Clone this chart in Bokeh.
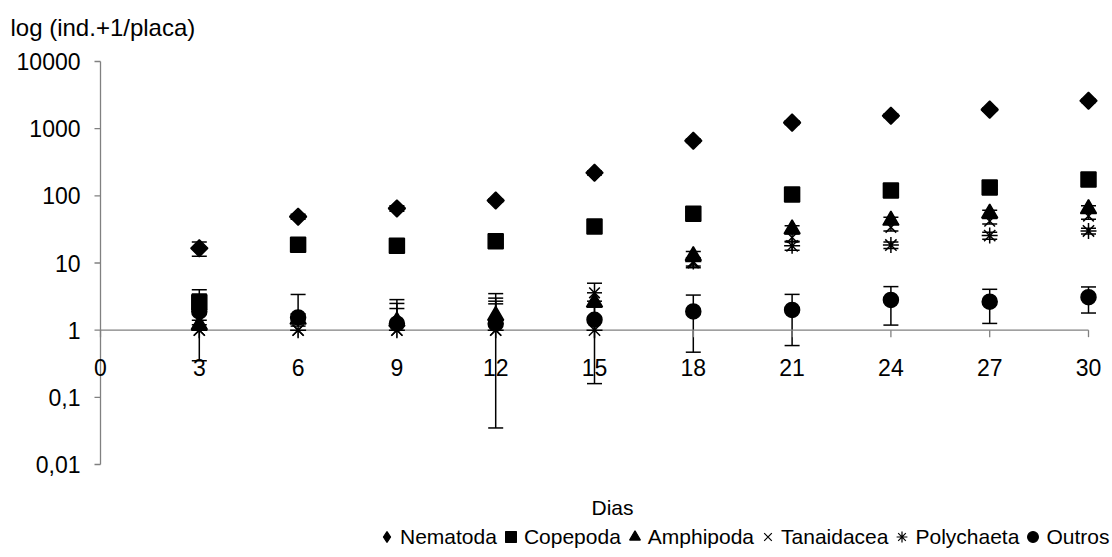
import numpy as np
from bokeh.plotting import figure
from bokeh.models import (Range1d, Whisker, TeeHead, ColumnDataSource, Legend,
                          LegendItem, Label)
from bokeh.core.properties import value
from bokeh.embed import file_html
from bokeh.resources import INLINE

FONT = "Liberation Sans"
W, H = 1112, 557

# Sampling days
days = [3, 6, 9, 12, 15, 18, 21, 24, 27, 30]

# Mean abundance (ind.+1 per plate) and standard deviation for each group
nematoda = [16.6, 49, 65, 85, 220, 660, 1230, 1560, 1920, 2600]
nematoda_sd = [4.0, 4, 6, 5, 15, 40, 80, 90, 110, 150]
copepoda = [2.6, 18.7, 18, 21, 35, 54, 105, 120, 133, 175]
copepoda_sd = [1.4, 2, 2, 2, 3, 4, 8, 8, 10, 12]
amphipoda = [1.2, 1.45, 1.35, 1.65, 2.6, 12.8, 32, 43, 55, 64]
amphipoda_sd = [0.2, 0.3, 1.5, 1.85, 1.0, 2, 4, 5, 6, 7]
tanaidacea = [1, 1, 1, 1, 3.6, 10, 24, 34, 42, 50]
tanaidacea_sd = [0, 0, 0, 1.7, 1.4, 1.5, 3, 4, 4, 5]
polychaeta = [1, 1, 1, 1, 1, 10.5, 18, 18.5, 25.6, 30]
polychaeta_sd = [0, 0, 1.1, 2.0, 0, 1.5, 2.5, 2, 3, 3]
outros = [1.9, 1.55, 1.25, 1.25, 1.43, 1.9, 2.0, 2.82, 2.66, 3.1]
outros_sd = [1.55, 1.85, 1.25, 1.215, 1.27, 1.43, 1.41, 1.63, 1.4, 1.3]

x_ticks = [0, 3, 6, 9, 12, 15, 18, 21, 24, 27, 30]
x_tick_labels = [str(t) for t in x_ticks]
y_ticks = [0.01, 0.1, 1, 10, 100, 1000, 10000]
y_tick_labels = ["0,01", "0,1", "1", "10", "100", "1000", "10000"]
x_cross = 1  # the day axis crosses the log axis at this value

# Pixel box of the axes inside the canvas
AX_LEFT, AX_RIGHT, AX_TOP, AX_BOTTOM = 100, 1088, 61, 464
day_px = (AX_RIGHT - AX_LEFT) / (x_ticks[-1] - x_ticks[0])
dec_px = (AX_BOTTOM - AX_TOP) / (np.log10(y_ticks[-1]) - np.log10(y_ticks[0]))

x_range = Range1d(x_ticks[0] - AX_LEFT / day_px, x_ticks[-1] + (W - AX_RIGHT) / day_px)
y_range = Range1d(10 ** (np.log10(y_ticks[0]) - (H - AX_BOTTOM) / dec_px),
                  10 ** (np.log10(y_ticks[-1]) + AX_TOP / dec_px))

p = figure(width=W, height=H, x_range=x_range, y_range=y_range,
           y_axis_type="log", x_axis_location=None, y_axis_location=None,
           output_backend="svg", toolbar_location=None, min_border=0)
p.outline_line_color = None
p.grid.visible = False
p.background_fill_color = "white"
p.border_fill_color = "white"

AXIS_GREY = "#808080"
TICK_FS = "23px"

# --- axes drawn as glyphs so the day axis can cross at 1 ---
y_tick_len = 6 / day_px                # leftward, in day units
x_tick_low = 10 ** (-7 / dec_px)       # 7 px below the crossing line

p.segment(x0=[x_ticks[0]], x1=[x_ticks[0]], y0=[y_ticks[0]], y1=[y_ticks[-1]],
          line_color=AXIS_GREY, line_width=1.3)
p.segment(x0=[x_ticks[0] - y_tick_len] * len(y_ticks), x1=[x_ticks[0]] * len(y_ticks),
          y0=y_ticks, y1=y_ticks, line_color=AXIS_GREY, line_width=1.3)
p.segment(x0=[x_ticks[0]], x1=[x_ticks[-1]], y0=[x_cross], y1=[x_cross],
          line_color=AXIS_GREY, line_width=1.3)
p.segment(x0=x_ticks, x1=x_ticks, y0=[x_cross] * len(x_ticks),
          y1=[x_cross * x_tick_low] * len(x_ticks), line_color=AXIS_GREY, line_width=1.3)

p.text(x=[x_ticks[0]] * len(y_ticks), y=y_ticks, text=y_tick_labels, x_offset=-20,
       text_align="right", text_baseline="middle", text_font=value(FONT),
       text_font_size=TICK_FS, text_color="black")
p.text(x=x_ticks, y=[x_cross] * len(x_ticks), text=x_tick_labels, y_offset=37,
       text_align="center", text_baseline="middle", text_font=value(FONT),
       text_font_size=TICK_FS, text_color="black")

series = [
    ("Nematoda", nematoda, nematoda_sd, "square", 12, np.pi / 4, "diamond"),
    ("Copepoda", copepoda, copepoda_sd, "square", 15, 0, "square"),
    ("Amphipoda", amphipoda, amphipoda_sd, "triangle", 16, 0, "triangle"),
    ("Tanaidacea", tanaidacea, tanaidacea_sd, "x", 15, 0, "x"),
    ("Polychaeta", polychaeta, polychaeta_sd, "asterisk", 16, 0, "asterisk"),
    ("Outros", outros, outros_sd, "circle", 15, 0, "circle"),
]

# Error bars: upper half always, lower half only where it stays positive
up_b, up_lo, up_hi, dn_b, dn_lo, dn_hi = [], [], [], [], [], []
for name, vals, sds, *_ in series:
    for d, v, s in zip(days, vals, sds):
        if s <= 0:
            continue
        up_b.append(d); up_lo.append(v); up_hi.append(v + s)
        if v - s > 0:
            dn_b.append(d); dn_lo.append(v - s); dn_hi.append(v)

up_src = ColumnDataSource(dict(base=up_b, lower=up_lo, upper=up_hi))
dn_src = ColumnDataSource(dict(base=dn_b, lower=dn_lo, upper=dn_hi))
p.add_layout(Whisker(source=up_src, base="base", lower="lower", upper="upper",
                     dimension="height", line_color="black", line_width=1.5,
                     upper_head=TeeHead(size=15, line_color="black", line_width=1.5),
                     lower_head=None, level="underlay"))
p.add_layout(Whisker(source=dn_src, base="base", lower="lower", upper="upper",
                     dimension="height", line_color="black", line_width=1.5,
                     lower_head=TeeHead(size=15, line_color="black", line_width=1.5),
                     upper_head=None, level="underlay"))

items = []
for name, vals, sds, marker, size, angle, leg_marker in series:
    src = ColumnDataSource(dict(day=days, val=vals))
    p.scatter(x="day", y="val", source=src, marker=marker, size=size, angle=angle,
              fill_color="black", line_color="black", line_width=1.5)
    # legend swatch renderer: one undrawn (NaN) point, used only for the key
    leg = p.scatter(x=[np.nan], y=[np.nan], marker=leg_marker, fill_color="black",
                    line_color="black", line_width=1.2)
    items.append(LegendItem(label=name, renderers=[leg]))

legend = Legend(items=items, orientation="horizontal", location=(373, 7),
                label_text_font=FONT, label_text_font_size="21px", label_text_color="black",
                glyph_width=27, glyph_height=27, label_standoff=0, spacing=0,
                padding=0, margin=0, border_line_color=None, background_fill_alpha=0)
p.add_layout(legend)

p.add_layout(Label(x=10, y=H - 27, x_units="screen", y_units="screen",
                   text="log (ind.+1/placa)", text_font=FONT, text_font_size="24px",
                   text_baseline="middle", text_align="left", text_color="black"))
p.add_layout(Label(x=612, y=H - 507, x_units="screen", y_units="screen",
                   text="Dias", text_font=FONT, text_font_size="21px",
                   text_baseline="middle", text_align="center", text_color="black"))

open("out.html", "w").write(file_html(p, INLINE))
